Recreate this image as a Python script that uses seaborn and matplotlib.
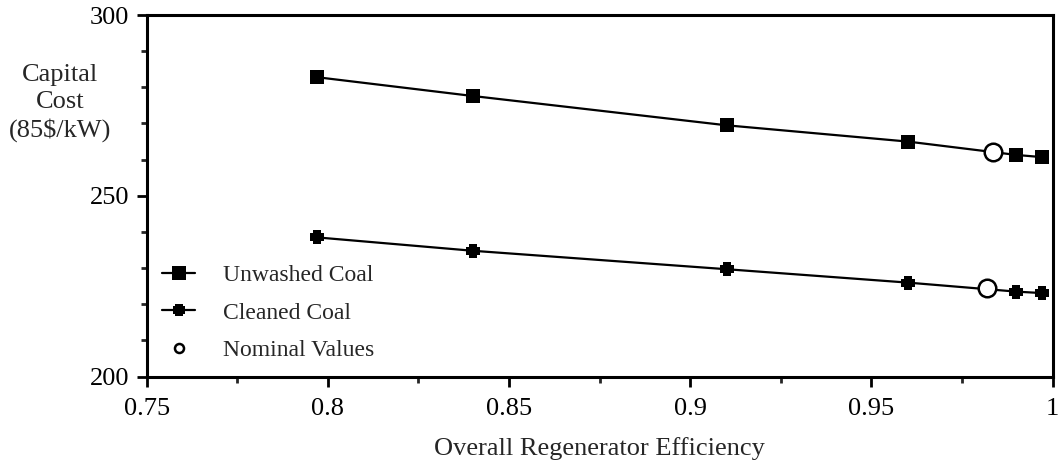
import matplotlib
matplotlib.use("Agg")
import matplotlib.pyplot as plt
from matplotlib.path import Path
from matplotlib.lines import Line2D
from matplotlib.ticker import MultipleLocator, FuncFormatter
import pandas as pd
import seaborn as sns

# values
efficiency = [0.797, 0.84, 0.91, 0.96, 0.99, 0.997]
unwashed_cost = [282.8, 277.6, 269.5, 265.0, 261.3, 260.7]
cleaned_cost = [238.5, 234.8, 229.7, 226.0, 223.5, 223.1]
nominal_eff = [0.9835, 0.982]
nominal_cost = [262.0, 224.4]

df = pd.DataFrame({
    "eff": efficiency * 2,
    "cost": unwashed_cost + cleaned_cost,
    "coal": ["Unwashed Coal"] * len(efficiency) + ["Cleaned Coal"] * len(efficiency),
})
nom = pd.DataFrame({"eff": nominal_eff, "cost": nominal_cost})

sns.set_theme(style="ticks")
plt.rcParams["font.family"] = ["Liberation Serif", "DejaVu Serif"]

# thick "plus" marker like the original cleaned-coal symbol
a = 0.62
cross = Path([(-a, -1), (a, -1), (a, -a), (1, -a), (1, a), (a, a), (a, 1), (-a, 1),
              (-a, a), (-1, a), (-1, -a), (-a, -a), (-a, -1)], closed=True)

fig = plt.figure(figsize=(10.63, 4.69), dpi=100)
ax = fig.add_axes([0.138, 0.197, 0.8523, 0.771])

sns.lineplot(data=df[df.coal == "Unwashed Coal"], x="eff", y="cost", ax=ax,
             color="black", linewidth=1.6, marker="s", markersize=10.5,
             markeredgewidth=0, legend=False)
sns.lineplot(data=df[df.coal == "Cleaned Coal"], x="eff", y="cost", ax=ax,
             color="black", linewidth=1.6, marker=cross, markersize=10,
             markeredgewidth=0, legend=False)
sns.scatterplot(data=nom, x="eff", y="cost", ax=ax, marker="o", s=160,
                facecolor="white", edgecolor="black", linewidth=1.8, zorder=5)

ax.set_xlim(0.75, 1.0)
ax.set_ylim(200, 300)
ax.xaxis.set_major_locator(MultipleLocator(0.05))
ax.xaxis.set_minor_locator(MultipleLocator(0.025))
ax.yaxis.set_major_locator(MultipleLocator(50))
ax.yaxis.set_minor_locator(MultipleLocator(10))
ax.xaxis.set_major_formatter(FuncFormatter(lambda v, p: f"{v:g}"))

for s in ax.spines.values():
    s.set_linewidth(2.2)
    s.set_color("black")
ax.tick_params(which="major", direction="out", length=7.5, width=2, labelsize=19,
               colors="black")
ax.tick_params(which="minor", direction="out", length=4, width=2)
ax.tick_params(axis="x", which="major", pad=8)
ax.tick_params(axis="y", which="major", pad=5)

ax.set_xlabel("Overall Regenerator Efficiency", fontsize=19, labelpad=12)
ax.set_ylabel("Capital\nCost\n(85$/kW)", fontsize=19, rotation=0,
              ha="center", va="center", multialignment="center", linespacing=1.3)
ax.yaxis.set_label_coords(-0.096, 0.757)

handles = [
    Line2D([], [], color="black", linewidth=1.6, marker="s", markersize=9.5,
           markeredgewidth=0),
    Line2D([], [], color="black", linewidth=1.6, marker=cross, markersize=9,
           markeredgewidth=0),
    Line2D([], [], color="none", marker="o", markersize=6.5, markerfacecolor="white",
           markeredgecolor="black", markeredgewidth=1.8),
]
ax.legend(handles, ["Unwashed Coal", "Cleaned Coal", "Nominal Values"],
          loc="center left", bbox_to_anchor=(0.017, 0.176), frameon=False,
          fontsize=17, handlelength=1.4, handletextpad=1.2, labelspacing=0.68,
          borderpad=0, borderaxespad=0)

fig.savefig("out.png", dpi=100, facecolor="white")
